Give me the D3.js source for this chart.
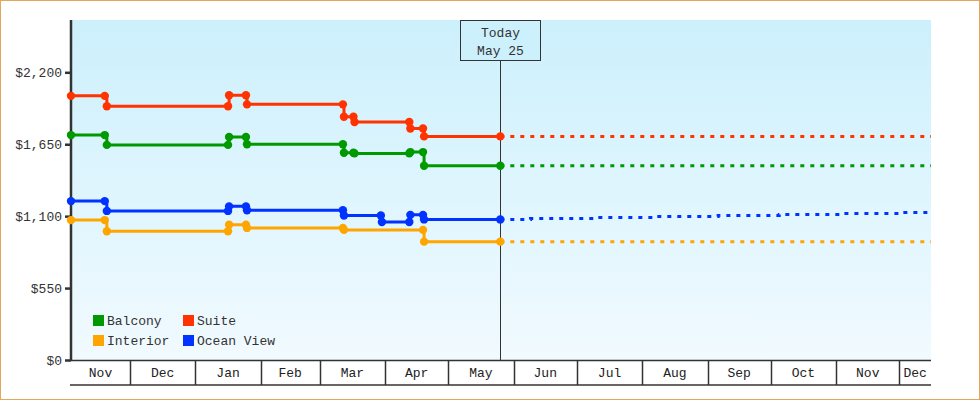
<!DOCTYPE html>
<html>
<head>
<meta charset="utf-8">
<script src="https://cdn.jsdelivr.net/npm/d3@7"></script>
<style>
  body { margin: 0; background: #fff; }
  svg { display: block; font-family: "Liberation Mono", monospace; }
</style>
</head>
<body>
<div id="chart"></div>
<script>
// chart size
var svgWidth = 980;
var svgHeight = 400;

var margin = { top: 20, right: 49, bottom: 40, left: 71 };
var chartWidth = svgWidth - margin.left - margin.right;
var chartHeight = svgHeight - margin.top - margin.bottom;

// data: price observations per cabin type (date, price)
var categories = ['Balcony', 'Suite', 'Interior', 'Ocean View'];
var colors = ['#009900', '#ff3300', '#ffa500', '#0033ff'];

var balconyPrices = [
    ['2022-11-03', 1720], ['2022-11-19', 1720], ['2022-11-20', 1645],
    ['2023-01-16T12:00', 1645], ['2023-01-17', 1705], ['2023-01-25', 1705],
    ['2023-01-25T12:00', 1650], ['2023-03-12', 1650], ['2023-03-12T12:00', 1585],
    ['2023-03-17', 1585], ['2023-03-17T12:00', 1580], ['2023-04-12T12:00', 1580],
    ['2023-04-13', 1590], ['2023-04-19', 1590], ['2023-04-19T12:00', 1485],
    ['2023-05-25T16:00', 1485]
];
var suitePrices = [
    ['2022-11-03', 2020], ['2022-11-19', 2020], ['2022-11-20', 1940],
    ['2023-01-16T12:00', 1940], ['2023-01-17', 2025], ['2023-01-25', 2025],
    ['2023-01-25T12:00', 1955], ['2023-03-12', 1955], ['2023-03-12T12:00', 1860],
    ['2023-03-17', 1860], ['2023-03-17T12:00', 1820], ['2023-04-12T12:00', 1820],
    ['2023-04-13', 1770], ['2023-04-19', 1770], ['2023-04-19T12:00', 1710],
    ['2023-05-25T16:00', 1710]
];
var interiorPrices = [
    ['2022-11-03', 1070], ['2022-11-19', 1070], ['2022-11-20', 985],
    ['2023-01-16T12:00', 985], ['2023-01-17', 1035], ['2023-01-25', 1035],
    ['2023-01-25T12:00', 1010], ['2023-03-12', 1010], ['2023-03-12T12:00', 995],
    ['2023-04-19', 995], ['2023-04-19T12:00', 905],
    ['2023-05-25T16:00', 905]
];
var oceanViewPrices = [
    ['2022-11-03', 1215], ['2022-11-19', 1215], ['2022-11-20', 1140],
    ['2023-01-16T12:00', 1140], ['2023-01-17', 1175], ['2023-01-25', 1175],
    ['2023-01-25T12:00', 1145], ['2023-03-12', 1145], ['2023-03-12T12:00', 1105],
    ['2023-03-30', 1105], ['2023-03-30T12:00', 1055], ['2023-04-12T12:00', 1055],
    ['2023-04-13', 1110], ['2023-04-19', 1110], ['2023-04-19T12:00', 1075],
    ['2023-05-25T16:00', 1075]
];

// forecast (dotted) from today onwards
var balconyForecast = [['2023-05-25T16:00', 1485], ['2023-12-16', 1485]];
var suiteForecast = [['2023-05-25T16:00', 1710], ['2023-12-16', 1710]];
var interiorForecast = [['2023-05-25T16:00', 905], ['2023-12-16', 905]];
var oceanViewForecast = [
    ['2023-05-25T16:00', 1075], ['2023-06-09', 1083], ['2023-07-09', 1090],
    ['2023-08-06', 1098], ['2023-09-06', 1105], ['2023-10-05', 1113],
    ['2023-11-03', 1120], ['2023-12-02', 1128], ['2023-12-16', 1128]
];

var pricesList = [balconyPrices, suitePrices, interiorPrices, oceanViewPrices];
var forecastList = [balconyForecast, suiteForecast, interiorForecast, oceanViewForecast];

var startDate = '2022-11-03';
var endDate = '2023-12-16';
var todayDate = '2023-05-25T16:00';
var todayLabel = ['Today', 'May 25'];
var yTicks = [0, 550, 1100, 1650, 2200];
var yMax = 2600;

var parse = s => new Date(s.length > 10 ? s + 'Z' : s + 'T00:00Z');

var xScale = d3.scaleUtc()
    .domain([parse(startDate), parse(endDate)])
    .range([0, chartWidth]);
var yScale = d3.scaleLinear()
    .domain([0, yMax])
    .range([chartHeight, 0]);

var svg = d3.select('#chart').append('svg')
    .attr('width', svgWidth)
    .attr('height', svgHeight);

// orange frame
svg.append('rect')
    .attr('x', 0.5).attr('y', 0.5)
    .attr('width', svgWidth - 1).attr('height', svgHeight - 1)
    .attr('fill', '#fff')
    .attr('stroke', '#e6a55e');

var defs = svg.append('defs');
var grad = defs.append('linearGradient')
    .attr('id', 'bg').attr('x1', 0).attr('y1', 0).attr('x2', 0).attr('y2', 1);
grad.append('stop').attr('offset', '0%').attr('stop-color', '#ccf0fc');
grad.append('stop').attr('offset', '100%').attr('stop-color', '#f1faff');

var chartG = svg.append('g')
    .attr('transform', `translate(${margin.left}, ${margin.top})`);

chartG.append('rect')
    .attr('width', chartWidth)
    .attr('height', chartHeight)
    .attr('fill', 'url(#bg)');

// month band under the plot
var months = d3.utcMonth.range(d3.utcMonth.floor(xScale.domain()[0]), xScale.domain()[1]);
var bandH = 25;
var bandG = chartG.append('g').attr('transform', `translate(0, ${chartHeight})`);
bandG.append('line')
    .attr('x1', -1).attr('x2', chartWidth)
    .attr('y1', 0.5).attr('y2', 0.5)
    .attr('stroke', '#333').attr('stroke-width', 1.5);
bandG.append('line')
    .attr('x1', -1).attr('x2', chartWidth)
    .attr('y1', bandH).attr('y2', bandH)
    .attr('stroke', '#333').attr('stroke-width', 1.5);
bandG.selectAll('.sep')
    .data(months.slice(1))
    .enter()
    .append('line')
    .attr('class', 'sep')
    .attr('x1', d => Math.round(xScale(d)) + 0.5)
    .attr('x2', d => Math.round(xScale(d)) + 0.5)
    .attr('y1', 0).attr('y2', bandH)
    .attr('stroke', '#333').attr('stroke-width', 1.5);
bandG.selectAll('.mlabel')
    .data(months)
    .enter()
    .append('text')
    .attr('class', 'mlabel')
    .attr('x', d => {
        var a = Math.max(xScale(d), 0);
        var b = Math.min(xScale(d3.utcMonth.offset(d, 1)), chartWidth);
        return (a + b) / 2;
    })
    .attr('y', 17)
    .attr('text-anchor', 'middle')
    .attr('font-size', '13px')
    .attr('fill', '#222')
    .text(d => d3.utcFormat('%b')(d));

// y axis
var yAxis = d3.axisLeft(yScale)
    .tickValues(yTicks)
    .tickSize(6)
    .tickPadding(3)
    .tickFormat(d => '$' + d3.format(',')(d));
var yAxisG = chartG.append('g').call(yAxis);
yAxisG.select('.domain').attr('stroke', '#333').attr('stroke-width', 2.5)
    .attr('d', `M0,0V${chartHeight}`);
yAxisG.selectAll('.tick line').attr('stroke', '#333').attr('stroke-width', 2.5);
yAxisG.selectAll('.tick text')
    .attr('font-family', '"Liberation Mono", monospace')
    .attr('font-size', '13px')
    .attr('fill', '#333');

// today marker
var todayX = xScale(parse(todayDate));
chartG.append('line')
    .attr('x1', Math.round(todayX) + 0.5).attr('x2', Math.round(todayX) + 0.5)
    .attr('y1', 40).attr('y2', chartHeight)
    .attr('stroke', '#333').attr('stroke-width', 1);
chartG.append('rect')
    .attr('x', Math.round(todayX) - 39.5).attr('y', 0.5)
    .attr('width', 80).attr('height', 40)
    .attr('fill', '#ccf0fc')
    .attr('stroke', '#333');
chartG.selectAll('.today')
    .data(todayLabel)
    .enter()
    .append('text')
    .attr('class', 'today')
    .attr('x', Math.round(todayX) + 0.5)
    .attr('y', (d, i) => 17 + i * 18)
    .attr('text-anchor', 'middle')
    .attr('font-size', '13px')
    .attr('fill', '#333')
    .text(d => d);

var line = d3.line()
    .curve(d3.curveStepAfter)
    .x(d => xScale(parse(d[0])))
    .y(d => yScale(d[1]));

// forecast dotted lines
chartG.selectAll('.forecast')
    .data(forecastList)
    .enter()
    .append('path')
    .attr('class', 'forecast')
    .attr('d', line)
    .attr('fill', 'none')
    .attr('stroke', (d, i) => colors[i])
    .attr('stroke-width', 3)
    .attr('stroke-dasharray', '4,6');

// solid step lines
chartG.selectAll('.history')
    .data(pricesList)
    .enter()
    .append('path')
    .attr('class', 'history')
    .attr('d', line)
    .attr('fill', 'none')
    .attr('stroke', (d, i) => colors[i])
    .attr('stroke-width', 3);

// markers
pricesList.forEach((series, i) => {
    chartG.selectAll('.dot' + i)
        .data(series)
        .enter()
        .append('circle')
        .attr('class', 'dot' + i)
        .attr('cx', d => xScale(parse(d[0])))
        .attr('cy', d => yScale(d[1]))
        .attr('r', 4.2)
        .attr('fill', colors[i]);
});

// legend (2 columns)
var legendG = chartG.append('g').attr('transform', 'translate(22, 295)');
var legendItems = legendG.selectAll('.legend')
    .data(categories)
    .enter()
    .append('g')
    .attr('class', 'legend')
    .attr('transform', (d, i) => `translate(${(i % 2) * 90}, ${Math.floor(i / 2) * 20})`);
legendItems.append('rect')
    .attr('width', 11).attr('height', 11)
    .attr('fill', (d, i) => colors[i]);
legendItems.append('text')
    .attr('x', 14)
    .attr('y', 10)
    .attr('font-size', '13px')
    .attr('fill', '#333')
    .text(d => d);
</script>
</body>
</html>
